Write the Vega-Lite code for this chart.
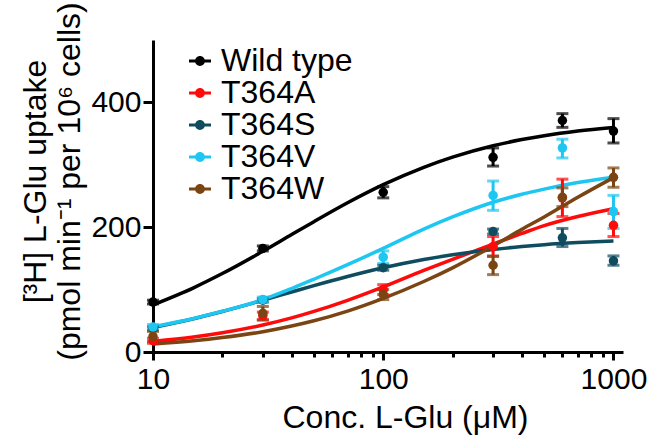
{
  "$schema": "https://vega.github.io/schema/vega-lite/v6.json",
  "autosize": {"type": "none"},
  "padding": {"left": 153, "top": 40, "right": 30, "bottom": 86},
  "width": 470,
  "height": 312,
  "config": {
    "view": {"stroke": null},
    "font": "Liberation Sans",
    "axis": {"grid": false, "domainColor": "#000000", "domainWidth": 3, "tickColor": "#000000", "tickWidth": 3, "labelColor": "#000000", "titleColor": "#000000", "labelFont": "Liberation Sans", "titleFont": "Liberation Sans", "titleFontWeight": "normal"}
  },
  "datasets": {
    "pts": [
      {"series": "Wild type", "conc": 10, "uptake": 80, "lo": 77, "hi": 83},
      {"series": "Wild type", "conc": 30, "uptake": 166, "lo": 162, "hi": 170},
      {"series": "Wild type", "conc": 100, "uptake": 256, "lo": 247, "hi": 265},
      {"series": "Wild type", "conc": 300, "uptake": 312, "lo": 298, "hi": 327},
      {"series": "Wild type", "conc": 600, "uptake": 371, "lo": 360, "hi": 382},
      {"series": "Wild type", "conc": 1000, "uptake": 354, "lo": 335, "hi": 374},
      {"series": "T364A", "conc": 10, "uptake": 18, "lo": 14, "hi": 22},
      {"series": "T364A", "conc": 30, "uptake": 58, "lo": 52, "hi": 64},
      {"series": "T364A", "conc": 100, "uptake": 100, "lo": 92, "hi": 108},
      {"series": "T364A", "conc": 300, "uptake": 169, "lo": 153, "hi": 185},
      {"series": "T364A", "conc": 600, "uptake": 247, "lo": 217, "hi": 277},
      {"series": "T364A", "conc": 1000, "uptake": 203, "lo": 185, "hi": 222},
      {"series": "T364S", "conc": 10, "uptake": 38, "lo": 35, "hi": 41},
      {"series": "T364S", "conc": 30, "uptake": 83, "lo": 80, "hi": 86},
      {"series": "T364S", "conc": 100, "uptake": 135, "lo": 131, "hi": 139},
      {"series": "T364S", "conc": 300, "uptake": 193, "lo": 189, "hi": 197},
      {"series": "T364S", "conc": 600, "uptake": 183, "lo": 169, "hi": 198},
      {"series": "T364S", "conc": 1000, "uptake": 146, "lo": 139, "hi": 154},
      {"series": "T364V", "conc": 10, "uptake": 40, "lo": 36, "hi": 44},
      {"series": "T364V", "conc": 30, "uptake": 84, "lo": 80, "hi": 88},
      {"series": "T364V", "conc": 100, "uptake": 152, "lo": 142, "hi": 162},
      {"series": "T364V", "conc": 300, "uptake": 251, "lo": 227, "hi": 274},
      {"series": "T364V", "conc": 600, "uptake": 327, "lo": 311, "hi": 341},
      {"series": "T364V", "conc": 1000, "uptake": 225, "lo": 198, "hi": 251},
      {"series": "T364W", "conc": 10, "uptake": 25, "lo": 17, "hi": 33},
      {"series": "T364W", "conc": 30, "uptake": 62, "lo": 51, "hi": 73},
      {"series": "T364W", "conc": 100, "uptake": 92, "lo": 84, "hi": 100},
      {"series": "T364W", "conc": 300, "uptake": 139, "lo": 124, "hi": 154},
      {"series": "T364W", "conc": 600, "uptake": 248, "lo": 233, "hi": 263},
      {"series": "T364W", "conc": 1000, "uptake": 280, "lo": 264, "hi": 295}
    ],
    "fit": [
      {"series": "Wild type", "conc": 10, "fit": 75.6},
      {"series": "Wild type", "conc": 15, "fit": 102.9},
      {"series": "Wild type", "conc": 20, "fit": 125.7},
      {"series": "Wild type", "conc": 30, "fit": 161.4},
      {"series": "Wild type", "conc": 40, "fit": 188.2},
      {"series": "Wild type", "conc": 50, "fit": 208.9},
      {"series": "Wild type", "conc": 70, "fit": 239.1},
      {"series": "Wild type", "conc": 100, "fit": 268.1},
      {"series": "Wild type", "conc": 150, "fit": 296.0},
      {"series": "Wild type", "conc": 200, "fit": 312.3},
      {"series": "Wild type", "conc": 300, "fit": 330.5},
      {"series": "Wild type", "conc": 400, "fit": 340.4},
      {"series": "Wild type", "conc": 500, "fit": 346.6},
      {"series": "Wild type", "conc": 700, "fit": 354.0},
      {"series": "Wild type", "conc": 1000, "fit": 359.8},
      {"series": "T364A", "conc": 10, "fit": 17.0},
      {"series": "T364A", "conc": 15, "fit": 24.0},
      {"series": "T364A", "conc": 20, "fit": 30.8},
      {"series": "T364A", "conc": 30, "fit": 43.2},
      {"series": "T364A", "conc": 40, "fit": 54.6},
      {"series": "T364A", "conc": 50, "fit": 65.0},
      {"series": "T364A", "conc": 70, "fit": 82.8},
      {"series": "T364A", "conc": 100, "fit": 104.3},
      {"series": "T364A", "conc": 150, "fit": 130.8},
      {"series": "T364A", "conc": 200, "fit": 148.5},
      {"series": "T364A", "conc": 300, "fit": 173.0},
      {"series": "T364A", "conc": 400, "fit": 190.0},
      {"series": "T364A", "conc": 500, "fit": 202.6},
      {"series": "T364A", "conc": 700, "fit": 217.2},
      {"series": "T364A", "conc": 1000, "fit": 229.6},
      {"series": "T364S", "conc": 10, "fit": 39.4},
      {"series": "T364S", "conc": 15, "fit": 53.4},
      {"series": "T364S", "conc": 20, "fit": 65.0},
      {"series": "T364S", "conc": 30, "fit": 82.9},
      {"series": "T364S", "conc": 40, "fit": 96.1},
      {"series": "T364S", "conc": 50, "fit": 106.3},
      {"series": "T364S", "conc": 70, "fit": 120.9},
      {"series": "T364S", "conc": 100, "fit": 134.9},
      {"series": "T364S", "conc": 150, "fit": 148.2},
      {"series": "T364S", "conc": 200, "fit": 155.8},
      {"series": "T364S", "conc": 300, "fit": 164.3},
      {"series": "T364S", "conc": 400, "fit": 169.0},
      {"series": "T364S", "conc": 500, "fit": 171.9},
      {"series": "T364S", "conc": 700, "fit": 175.3},
      {"series": "T364S", "conc": 1000, "fit": 178.0},
      {"series": "T364V", "conc": 10, "fit": 40.5},
      {"series": "T364V", "conc": 15, "fit": 53.8},
      {"series": "T364V", "conc": 20, "fit": 65.2},
      {"series": "T364V", "conc": 30, "fit": 84.0},
      {"series": "T364V", "conc": 40, "fit": 101.7},
      {"series": "T364V", "conc": 50, "fit": 116.6},
      {"series": "T364V", "conc": 70, "fit": 140.0},
      {"series": "T364V", "conc": 100, "fit": 166.0},
      {"series": "T364V", "conc": 150, "fit": 197.0},
      {"series": "T364V", "conc": 200, "fit": 216.5},
      {"series": "T364V", "conc": 300, "fit": 240.0},
      {"series": "T364V", "conc": 400, "fit": 252.8},
      {"series": "T364V", "conc": 500, "fit": 261.0},
      {"series": "T364V", "conc": 700, "fit": 271.5},
      {"series": "T364V", "conc": 1000, "fit": 280.0},
      {"series": "T364W", "conc": 10, "fit": 12.8},
      {"series": "T364W", "conc": 15, "fit": 18.1},
      {"series": "T364W", "conc": 20, "fit": 23.2},
      {"series": "T364W", "conc": 30, "fit": 32.5},
      {"series": "T364W", "conc": 40, "fit": 41.6},
      {"series": "T364W", "conc": 50, "fit": 50.0},
      {"series": "T364W", "conc": 70, "fit": 65.6},
      {"series": "T364W", "conc": 100, "fit": 86.0},
      {"series": "T364W", "conc": 150, "fit": 113.0},
      {"series": "T364W", "conc": 200, "fit": 134.9},
      {"series": "T364W", "conc": 300, "fit": 170.0},
      {"series": "T364W", "conc": 400, "fit": 196.5},
      {"series": "T364W", "conc": 500, "fit": 216.4},
      {"series": "T364W", "conc": 700, "fit": 248.0},
      {"series": "T364W", "conc": 1000, "fit": 279.5}
    ]
  },
  "resolve": {"axis": {"x": "independent", "y": "independent"}},
  "layer": [
    {
      "data": {"name": "fit"},
      "mark": {"type": "line", "strokeWidth": 3.5, "interpolate": "monotone"},
      "encoding": {
        "x": {"field": "conc", "type": "quantitative", "scale": {"type": "log", "domain": [10, 1100], "nice": false},
          "axis": {"orient": "bottom", "values": [20, 30, 40, 50, 60, 70, 80, 90, 200, 300, 400, 500, 600, 700, 800, 900], "labels": false, "domain": false, "tickSize": 5, "title": null}},
        "y": {"field": "fit", "type": "quantitative", "scale": {"domain": [0, 500], "nice": false},
          "axis": {"values": [0, 200, 400], "tickSize": 10, "labelFontSize": 30, "labelPadding": 2, "title": ["[³H] L-Glu uptake", "(pmol min⁻¹ per 10⁶ cells)"], "titleFontSize": 32, "titleAngle": -90, "titleAlign": "center", "titleBaseline": "middle", "titleX": -118, "titleY": 141, "titleLineHeight": 34}},
        "color": {"field": "series", "type": "nominal",
          "scale": {"domain": ["Wild type", "T364A", "T364S", "T364V", "T364W"], "range": ["#000000", "#ff0a0a", "#0f4c5f", "#1ec6f2", "#7b4413"]},
          "legend": {"orient": "none", "legendX": 31, "legendY": 5, "title": null, "padding": 0, "labelFontSize": 32, "labelColor": "#000000", "labelFont": "Liberation Sans", "symbolType": "M-1,-0.14L1,-0.14L1,0.14L-1,0.14Z M-0.45,0A0.45,0.45,0,1,1,0.45,0A0.45,0.45,0,1,1,-0.45,0Z", "symbolSize": 484, "symbolStrokeWidth": 0, "labelOffset": 5, "rowPadding": 0,
            "encode": {"symbols": {"update": {"fill": {"scale": "color", "field": "value"}, "opacity": {"value": 1}}}}}},
        "detail": {"field": "series"}
      }
    },
    {
      "data": {"name": "pts"},
      "mark": {"type": "errorbar", "ticks": true, "size": 12, "thickness": 3},
      "encoding": {
        "x": {"field": "conc", "type": "quantitative", "axis": null},
        "y": {"field": "lo", "type": "quantitative", "axis": null},
        "y2": {"field": "hi"},
        "color": {"field": "series", "type": "nominal"}
      }
    },
    {
      "data": {"name": "pts"},
      "mark": {"type": "point", "filled": true, "opacity": 1, "size": 90},
      "encoding": {
        "x": {"field": "conc", "type": "quantitative",
          "axis": {"orient": "bottom", "values": [10, 100, 1000], "format": "d", "tickSize": 8, "labelFontSize": 30, "labelPadding": 4, "title": "Conc. L-Glu (μM)", "titleFontSize": 32, "titleX": 252, "titleY": 75, "titleBaseline": "alphabetic", "titleAlign": "center", "labelFlush": false}},
        "y": {"field": "uptake", "type": "quantitative", "axis": null},
        "color": {"field": "series", "type": "nominal"}
      }
    }
  ]
}
